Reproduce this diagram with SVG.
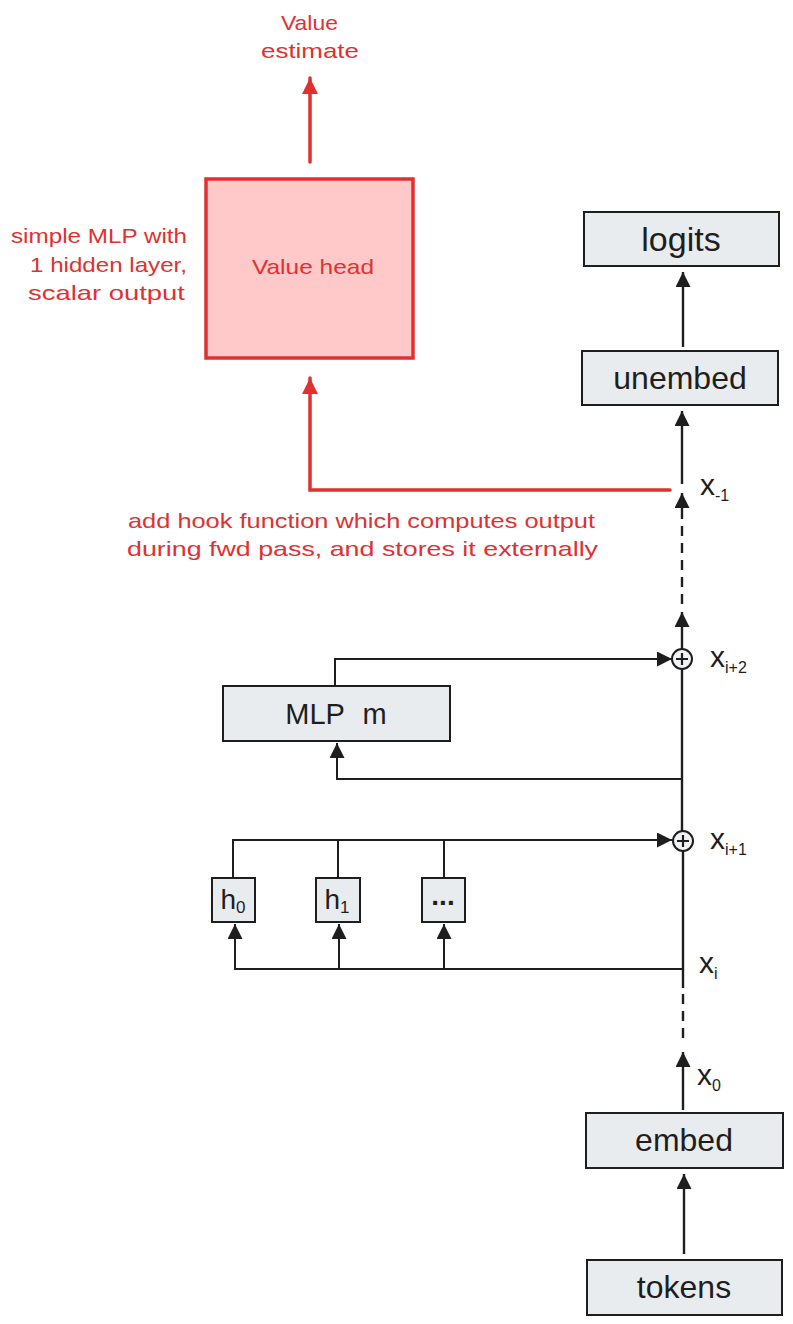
<svg xmlns="http://www.w3.org/2000/svg" width="793" height="1324" viewBox="0 0 793 1324">
<style>
.box{fill:#e9ecef;stroke:#1e1e1e;stroke-width:2}
.lbl{font-family:"Liberation Sans","DejaVu Sans",sans-serif;fill:#1e1e1e;text-anchor:middle}
.red{font-family:"Liberation Sans","DejaVu Sans",sans-serif;fill:#e03131;font-size:21px}
.ln{fill:none;stroke:#1e1e1e;stroke-width:2}
.main{fill:none;stroke:#1e1e1e;stroke-width:2.4}
.rl{fill:none;stroke:#e03131;stroke-width:3.5;stroke-linecap:round}
.xv{font-family:"Liberation Sans","DejaVu Sans",sans-serif;fill:#1e1e1e;font-size:30px}
.sub{font-size:16px}
</style>
<defs>
<marker id="ah" viewBox="0 0 10 10" refX="10" refY="5" markerWidth="17" markerHeight="15" markerUnits="userSpaceOnUse" orient="auto">
<path d="M0,0 L10,5 L0,10 z" fill="#1e1e1e"/>
</marker>
<marker id="ahr" viewBox="0 0 10 10" refX="10" refY="5" markerWidth="18" markerHeight="16" markerUnits="userSpaceOnUse" orient="auto">
<path d="M0,0 L10,5 L0,10 z" fill="#e03131"/>
</marker>
</defs>
<g id="connectors">
<line class="main" x1="683" y1="347" x2="683" y2="272" marker-end="url(#ah)"/>
<line class="main" x1="682" y1="484" x2="682" y2="411" marker-end="url(#ah)"/>
<line class="main" x1="682" y1="509" x2="682" y2="607" stroke-dasharray="10 7"/>
<line class="main" x1="682" y1="509" x2="682" y2="493" marker-end="url(#ah)"/>
<line class="main" x1="682" y1="649" x2="682" y2="612" marker-end="url(#ah)"/>
<line class="main" x1="682" y1="669" x2="682" y2="831"/>
<polyline class="ln" points="335,686 335,659 672,659" marker-end="url(#ah)"/>
<polyline class="ln" points="682,779 337,779 337,743" marker-end="url(#ah)"/>
<polyline class="ln" points="233,878 233,840 672,840" marker-end="url(#ah)"/>
<line class="ln" x1="338" y1="840" x2="338" y2="878"/>
<line class="ln" x1="444" y1="840" x2="444" y2="878"/>
<line class="main" x1="683" y1="851" x2="683" y2="988"/>
<polyline class="ln" points="683,969 235,969 235,924" marker-end="url(#ah)"/>
<line class="ln" x1="339" y1="969" x2="339" y2="924" marker-end="url(#ah)"/>
<line class="ln" x1="444" y1="969" x2="444" y2="924" marker-end="url(#ah)"/>
<line class="main" x1="683" y1="994" x2="683" y2="1042" stroke-dasharray="10 7"/>
<line class="main" x1="683" y1="1110" x2="683" y2="1052" marker-end="url(#ah)"/>
<line class="main" x1="684" y1="1254" x2="684" y2="1174" marker-end="url(#ah)"/>
<polyline class="rl" points="670,490 310,490 310,378" marker-end="url(#ahr)"/>
<line class="rl" x1="310" y1="162" x2="310" y2="78" marker-end="url(#ahr)"/>
</g>
<g id="plus-i2">
<circle cx="682" cy="659" r="10" fill="#f1f3f5" stroke="#1e1e1e" stroke-width="2"/>
<path d="M676,659 H688 M682,653 V665" stroke="#1e1e1e" stroke-width="2.2"/>
</g>
<g id="plus-i1">
<circle cx="683" cy="841" r="10" fill="#f1f3f5" stroke="#1e1e1e" stroke-width="2"/>
<path d="M677,841 H689 M683,835 V847" stroke="#1e1e1e" stroke-width="2.2"/>
</g>
<g id="value-head">
<rect x="206" y="179" width="207" height="179" fill="#ffc9c9" stroke="#e03131" stroke-width="3.5"/>
<text class="red" x="252" y="274" textLength="122" lengthAdjust="spacingAndGlyphs">Value head</text>
</g>
<g id="value-estimate">
<text class="red" x="281" y="30" textLength="57" lengthAdjust="spacingAndGlyphs">Value</text>
<text class="red" x="261" y="58" textLength="98" lengthAdjust="spacingAndGlyphs">estimate</text>
</g>
<g id="mlp-note">
<text class="red" x="11" y="243" textLength="176" lengthAdjust="spacingAndGlyphs">simple MLP with</text>
<text class="red" x="30" y="272" textLength="157" lengthAdjust="spacingAndGlyphs">1 hidden layer,</text>
<text class="red" x="28" y="300" textLength="157" lengthAdjust="spacingAndGlyphs">scalar output</text>
</g>
<g id="hook-note">
<text class="red" x="128" y="528" textLength="467" lengthAdjust="spacingAndGlyphs">add hook function which computes output</text>
<text class="red" x="127" y="556" textLength="471" lengthAdjust="spacingAndGlyphs">during fwd pass, and stores it externally</text>
</g>
<g id="logits">
<rect class="box" x="584" y="212" width="195" height="54"/>
<text class="lbl" x="681" y="251" font-size="34">logits</text>
</g>
<g id="unembed">
<rect class="box" x="582" y="351" width="196" height="54"/>
<text class="lbl" x="680" y="389" font-size="32">unembed</text>
</g>
<g id="mlp">
<rect class="box" x="223" y="686" width="227" height="55"/>
<text class="lbl" x="336" y="724" font-size="29" word-spacing="10">MLP m</text>
</g>
<g id="h0">
<rect class="box" x="212" y="878" width="43" height="44"/>
<text class="lbl" x="233" y="909" font-size="28">h<tspan font-size="17" dy="4">0</tspan></text>
</g>
<g id="h1">
<rect class="box" x="316" y="878" width="44" height="44"/>
<text class="lbl" x="337" y="909" font-size="28">h<tspan font-size="17" dy="4">1</tspan></text>
</g>
<g id="hdots">
<rect class="box" x="422" y="878" width="43" height="44"/>
<text class="lbl" x="443" y="905" font-size="28" font-weight="bold">...</text>
</g>
<g id="embed">
<rect class="box" x="586" y="1113" width="197" height="55"/>
<text class="lbl" x="684" y="1151" font-size="32">embed</text>
</g>
<g id="tokens">
<rect class="box" x="587" y="1260" width="195" height="55"/>
<text class="lbl" x="684" y="1298" font-size="32">tokens</text>
</g>
<g id="labels">
<text class="xv" x="700" y="495">x<tspan class="sub" dy="6">-1</tspan></text>
<text class="xv" x="710" y="667">x<tspan class="sub" dy="6">i+2</tspan></text>
<text class="xv" x="710" y="849">x<tspan class="sub" dy="6">i+1</tspan></text>
<text class="xv" x="699" y="973">x<tspan class="sub" dy="6">i</tspan></text>
<text class="xv" x="697" y="1085">x<tspan class="sub" dy="6">0</tspan></text>
</g>
</svg>
